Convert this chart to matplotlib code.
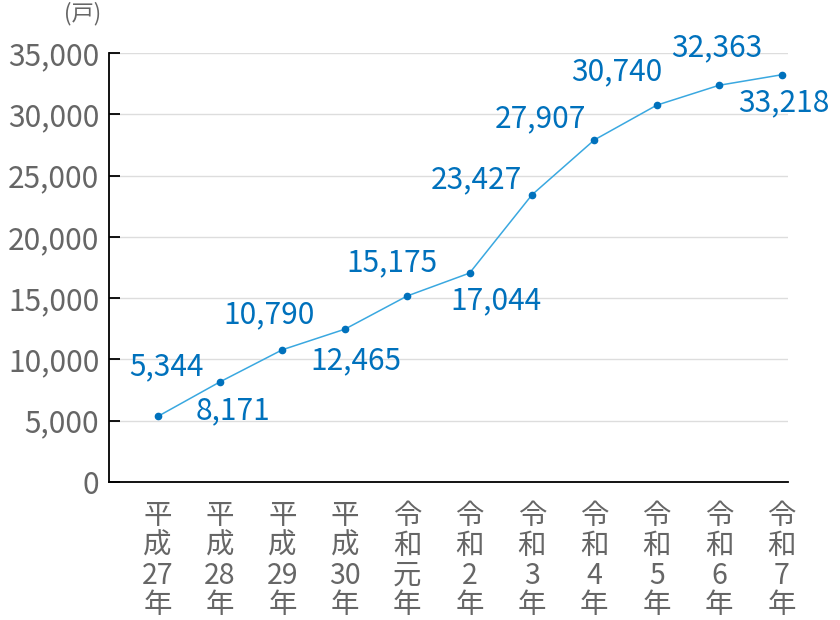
import numpy as np
import matplotlib
matplotlib.use("Agg")
from matplotlib import pyplot as plt

plt.rcParams['font.family'] = ['Noto Sans CJK JP', 'DejaVu Sans']

years = ["平\n成\n27\n年", "平\n成\n28\n年", "平\n成\n29\n年", "平\n成\n30\n年",
         "令\n和\n元\n年", "令\n和\n2\n年", "令\n和\n3\n年", "令\n和\n4\n年",
         "令\n和\n5\n年", "令\n和\n6\n年", "令\n和\n7\n年"]
households = [5344, 8171, 10790, 12465, 15175, 17044, 23427, 27907, 30740, 32363, 33218]
# label offsets (points) : above-left or below-right
label_offsets = [(6, 36), (9, -21), (-10, 25), (8, -23), (-11, 24), (19, -20),
                 (-40, 11), (-39, 15), (-29, 24), (-2, 27), (2, -20)]
yticks = np.arange(0, 35001, 5000)

gray = "#666666"
blue = "#0071bc"

fig = plt.figure(figsize=(8.4, 6.2), dpi=100)
ax = fig.add_axes([0.1298, 0.2226, 0.808, 0.692])

x = np.arange(len(years))
ax.plot(x, households, color="#3aa8e0", lw=1.1, zorder=3)
ax.plot(x, households, "o", color=blue, ms=4.5, zorder=4)

for i in range(len(years)):
    ax.annotate(format(households[i], ","), (x[i], households[i]),
                xytext=label_offsets[i], textcoords="offset points",
                ha="center", va="center", fontsize=21.5, color=blue)

ax.set_xlim(-0.78, 10.1)
ax.set_ylim(0, 35000)
ax.set_yticks(yticks)
ax.set_yticklabels([format(v, ",") for v in yticks])
ax.set_xticks(x)
ax.set_xticklabels(years, linespacing=0.98)
ax.grid(axis="y", color="#dddddd", lw=1)
ax.set_axisbelow(True)

for s in ["top", "right"]:
    ax.spines[s].set_visible(False)
for s in ["left", "bottom"]:
    ax.spines[s].set_color("black")
    ax.spines[s].set_linewidth(1.3)

ax.tick_params(axis="y", direction="in", length=8, width=1.3, pad=7,
               labelsize=21.5, labelcolor=gray)
ax.tick_params(axis="x", length=0, pad=14, labelsize=20.5, labelcolor=gray)

fig.text(0.098, 0.978, "(戸)", fontsize=16, color=gray, ha="center", va="center")

plt.savefig("out.png")
